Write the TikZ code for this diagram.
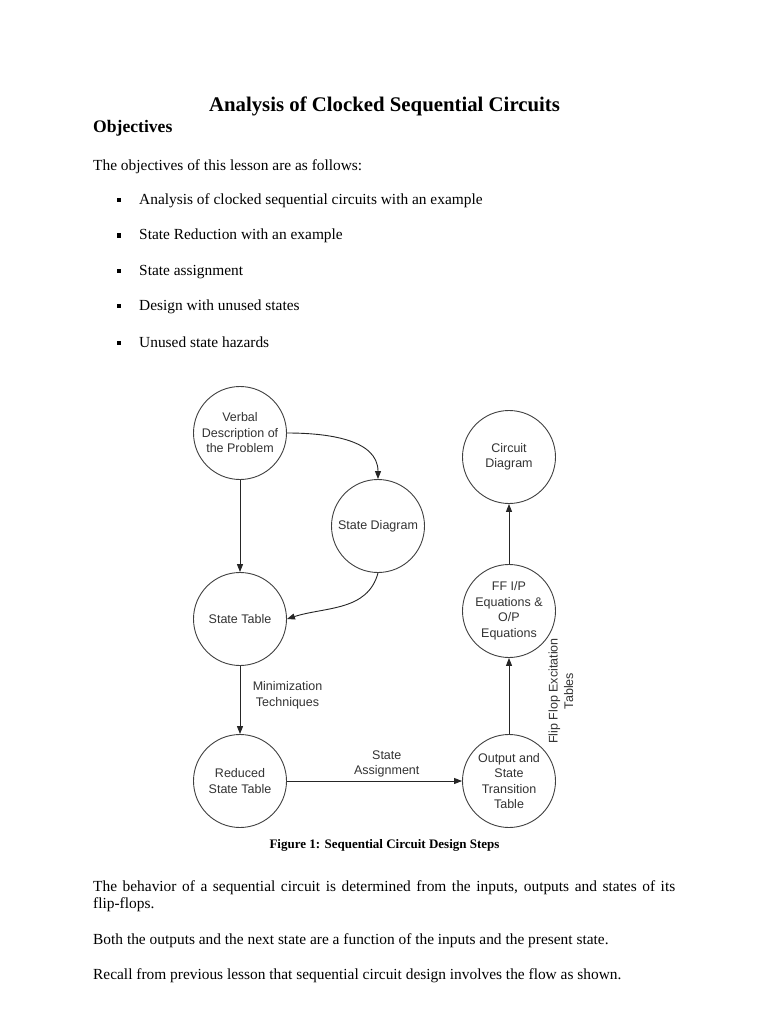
\documentclass[tikz,border=0pt]{standalone}
\usepackage{fontspec}
\setmainfont{Liberation Serif}
\newfontfamily\diagfont{Liberation Sans}
\usetikzlibrary{arrows.meta,positioning}

\begin{document}
\begin{tikzpicture}[
    x=1pt, y=-1pt,
    body/.style={font=\fontsize{15.4}{17.5}\selectfont, inner sep=0pt, anchor=base west},
    state/.style={circle, draw=black!75, line width=0.9pt, minimum size=93pt, inner sep=0pt, align=center, font=\diagfont\fontsize{12.5}{15.5}\selectfont, text=black!80},
    lbl/.style={align=center, font=\diagfont\fontsize{12.5}{15.5}\selectfont, text=black!80},
    arrow/.style={-{Triangle[length=8pt, width=6pt]}, draw=black!85, line width=0.9pt},
    bulletsq/.style={fill, minimum size=4pt, inner sep=0pt},
  ]
  \fill[white] (0,0) rectangle (768,1024);
  \useasboundingbox (0,0) rectangle (768,1024);

  % page text
  \node[font=\bfseries\fontsize{20.8}{24}\selectfont, inner sep=0pt, anchor=base] (title) at (384.5,112) {Analysis of Clocked Sequential Circuits};
  \node[font=\bfseries\fontsize{17.6}{20}\selectfont, inner sep=0pt, anchor=base west] (objectives) at (93,133) {Objectives};
  \node[body] (intro) at (93,171) {The objectives of this lesson are as follows:};
  \foreach \y/\txt in {205/Analysis of clocked sequential circuits with an example, 240/State Reduction with an example, 275/State assignment, 310/Design with unused states, 347/Unused state hazards} {
    \node[bulletsq] (bul\y) at (119,\y-4.5) {};
    \node[body] (item\y) at (139,\y) {\txt};
  }

  % design flow
  \node[state] (verbal) at (240,433) {Verbal\\Description of\\the Problem};
  \node[state] (sdiag) at (378,526) {State Diagram};
  \node[state] (circuit) at (509,457) {Circuit\\Diagram};
  \node[state] (stable) at (240,619) {State Table};
  \node[state] (ffeq) at (509,611) {FF I/P\\Equations \&\\O/P\\Equations};
  \node[state] (rtable) at (240,781) {Reduced\\State Table};
  \node[state] (ottable) at (509,781) {Output and\\State\\Transition\\Table};

  \draw[arrow] (verbal.east) to[out=0, in=90] (sdiag.north);
  \draw[arrow] (sdiag.south) to[out=-105, in=18] (stable.east);
  \foreach \a/\b in {verbal/stable, ottable/ffeq, ffeq/circuit}
    \draw[arrow] (\a) -- (\b);
  \draw[arrow] (stable) -- node[lbl, pos=0.43, right=9pt] (minlbl) {Minimization\\Techniques} (rtable);
  \draw[arrow] (rtable) -- node[lbl, pos=0.57, above] (assignlbl) {State\\Assignment} (ottable);
  \node[lbl, rotate=90] (exctab) at (561,691) {Flip Flop Excitation\\Tables};

  \node[font=\bfseries\fontsize{13}{15}\selectfont, inner sep=0pt, anchor=base] (caption) at (384.5,848) {Figure 1: Sequential Circuit Design Steps};

  % paragraphs
  \node[body] (para1) at (93,891) {\hbox to 582pt{The behavior of a sequential circuit is determined from the inputs, outputs and states of its}};
  \node[body] (para1b) at (93,908) {flip-flops.};
  \node[body] (para2) at (93,944) {Both the outputs and the next state are a function of the inputs and the present state.};
  \node[body] (para3) at (93,979) {Recall from previous lesson that sequential circuit design involves the flow as shown.};
\end{tikzpicture}
\end{document}
